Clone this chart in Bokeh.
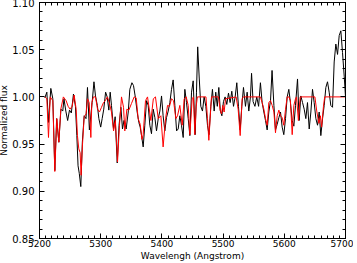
from bokeh.plotting import figure
from bokeh.models import LinearAxis, SingleIntervalTicker, PrintfTickFormatter, Range1d, CustomJSTickFormatter
from bokeh.embed import file_html
from bokeh.resources import INLINE

# Observed spectrum (black)
obs_wave = [5208.7, 5212, 5214.7, 5218.5, 5221.8, 5225, 5228, 5231.6, 5235, 5238, 5240, 5243, 5246, 5249, 5252,
            5255.5, 5258.7, 5261, 5263, 5265, 5267.5, 5270, 5273, 5276, 5278.4,
            5281.5, 5286, 5289, 5291.5, 5294.5, 5297, 5300, 5302.4, 5305, 5308, 5310.6, 5313.3, 5315.5, 5317.6,
            5321, 5323.6, 5327, 5330, 5333, 5335.6, 5338, 5341.6, 5345, 5347.6, 5351, 5353.6, 5356.3, 5359.6,
            5362.3, 5364.5, 5367.2,
            5369.4, 5372.1, 5374.9, 5377.6, 5380.3, 5383, 5385.8, 5388.5, 5391.2, 5394, 5396.7, 5399.4, 5402,
            5404.8, 5407.5, 5410.3, 5413, 5415.7, 5418.4, 5421.2, 5424, 5426.6, 5429.3, 5432, 5434.8, 5437.5,
            5440.2, 5443, 5445.7, 5448.4, 5451.1,
            5454.3, 5456.5, 5458.5, 5461, 5463.6, 5466.3, 5469, 5471.8, 5474.5, 5477, 5479.9, 5482.6, 5485.4,
            5488, 5490.5, 5493, 5495.5, 5498, 5500.6, 5503.3, 5506, 5508.8, 5511.5, 5514.2, 5517, 5519.7,
            5522.4, 5525.1, 5527.9, 5530.6, 5533.3,
            5536.6, 5539.3, 5542, 5544.7, 5546.5, 5549, 5552, 5555, 5558, 5561, 5563.8, 5566.6, 5569.3, 5572,
            5574.7, 5577.5, 5580, 5583, 5585.6, 5588.4, 5591.1, 5593.8, 5596.5, 5599.2, 5602, 5604.7, 5607.4,
            5610, 5612.9, 5615.6, 5618.3, 5621.6,
            5624.3, 5627, 5629.8, 5632.5, 5635.2, 5637.9, 5640.7, 5643.4, 5646.1, 5648.8, 5651.6, 5654.3, 5657,
            5659.7, 5662.5, 5665.2, 5667.9, 5670.6, 5673.3, 5676, 5678.8, 5681.5, 5684.2, 5687, 5689.7, 5692.4,
            5695.1, 5697.9, 5700]
obs_flux = [0.999, 1.005, 0.973, 1.009, 0.998, 0.922, 0.977, 0.952, 0.987, 0.985, 0.998, 0.985, 0.975, 0.986, 0.983,
            1.003, 0.990, 0.959, 0.927, 0.919, 0.905, 0.952, 0.980, 0.977, 1.010,
            0.965, 0.994, 1.016, 1.001, 0.991, 0.977, 0.968, 0.977, 0.987, 1.005, 1.000, 0.986, 1.005, 0.991,
            0.966, 0.979, 0.930, 0.970, 0.989, 0.966, 0.975, 0.966, 0.984, 1.008, 1.015, 1.012, 1.001, 0.984,
            0.973, 0.968, 0.957,
            0.947, 0.970, 0.996, 0.991, 0.970, 0.961, 0.987, 0.978, 0.964, 0.977, 0.985, 1.001, 0.980,
            0.964, 0.978, 0.985, 0.994, 1.008, 1.018, 0.991, 0.964, 0.966, 0.980, 0.970, 0.957, 1.008,
            0.994, 0.977, 0.959, 1.005, 1.017,
            0.960, 1.005, 1.053, 1.020, 0.990, 0.985, 1.000, 0.990, 0.970, 0.960, 0.990, 1.008, 0.985,
            1.005, 0.990, 1.010, 0.985, 0.980, 0.995, 1.000, 0.992, 1.004, 0.994, 1.006, 0.990, 1.000,
            1.015, 0.990, 0.965, 0.990, 1.010,
            0.990, 1.005, 0.985, 1.000, 1.025, 0.995, 0.990, 1.000, 0.990, 1.015, 0.994, 0.984, 0.975, 0.965,
            0.984, 0.996, 1.028, 0.991, 0.965, 0.971, 0.978, 0.984, 0.968, 0.960, 0.977, 1.000, 1.008,
            0.994, 0.975, 0.969, 0.991, 1.019,
            0.975, 1.001, 0.994, 0.987, 0.977, 0.994, 0.966, 0.984, 1.008, 0.994, 0.977, 0.970, 0.984,
            0.959, 0.977, 0.991, 1.010, 1.016, 1.005, 0.991, 0.989, 1.037, 1.056, 1.045, 1.065, 1.070,
            1.047, 1.022, 1.000]

# Model spectrum (red)
mod_wave = [5208.7, 5212, 5214.7, 5217.5, 5221.8, 5225, 5228.3, 5231.6, 5234.8, 5239, 5243.5, 5246.8, 5250,
            5253.3, 5256.6, 5259.9, 5262, 5264.2, 5266.4, 5268, 5270.2, 5273, 5276.2, 5278.4, 5281.2, 5283.9,
            5285.5, 5288.2, 5291.5, 5294.8, 5298, 5301.3, 5304.6, 5307.5, 5311, 5314, 5317.6, 5321, 5324,
            5327.5, 5330.7, 5334, 5337.3, 5339.4, 5342.7, 5346, 5350.3, 5354.7, 5358, 5361.2, 5364.5, 5367.5,
            5369.4, 5373.2, 5376.5, 5382, 5386, 5389.5, 5394, 5398.3, 5402, 5406, 5409.2, 5412.4, 5415.7,
            5419, 5422.8, 5425.5, 5429.3, 5433.2, 5436.4, 5439.7, 5443, 5445.7, 5449.5, 5451.6, 5453.8,
            5456, 5458, 5472, 5474.5, 5476.7, 5478.8, 5481, 5492.5, 5495.2, 5497.4, 5499.5, 5501.7, 5503.9,
            5521.3, 5524.6, 5527.9, 5531.1, 5533, 5561, 5563.8, 5566.6, 5569.3, 5572, 5574.7, 5577.5, 5580.2,
            5583, 5585.6, 5588.4, 5591.1, 5593.8, 5596.5, 5599.2, 5602, 5604.7, 5607.4, 5610, 5612.9, 5615.6,
            5618.3, 5620, 5623, 5626, 5650, 5653, 5656.5, 5659, 5661, 5664, 5666, 5700]
mod_flux = [1.000, 0.998, 0.957, 1.000, 0.996, 0.921, 0.977, 0.952, 0.987, 1.000, 0.996, 0.990, 0.987,
            0.990, 1.002, 0.987, 0.959, 0.945, 0.941, 0.917, 0.949, 0.979, 0.982, 0.998, 0.994, 0.957,
            0.994, 1.000, 1.000, 0.987, 0.984, 0.989, 0.994, 0.996, 1.000, 0.994, 0.984, 0.964, 0.975,
            0.931, 0.970, 1.000, 0.989, 0.964, 0.987, 0.986, 0.993, 1.000, 0.999, 0.977, 0.971, 0.955,
            0.960, 0.996, 1.000, 0.975, 0.998, 1.000, 0.977, 0.980, 0.947, 0.977, 0.991, 0.990, 0.998,
            0.996, 0.977, 0.980, 0.991, 0.970, 0.998, 1.000, 0.991, 0.960, 0.998, 1.000, 0.960,
            0.990, 1.000, 1.000, 0.977, 0.954, 0.977, 1.000, 1.000, 0.986, 0.982, 0.991, 0.984, 0.998,
            1.000, 0.987, 0.959, 0.998, 1.000, 1.000, 0.994, 0.987, 0.977, 0.970, 0.994, 0.996, 0.991,
            0.984, 0.962, 0.980, 0.986, 0.980, 0.978, 0.970, 0.987, 1.000, 1.000, 0.996, 0.960, 0.991,
            0.998, 1.000, 0.975, 1.000, 1.000, 0.985, 0.972, 0.980, 0.968, 0.990, 1.000, 1.000]

x_ticks_interval = 100
y_ticks_interval = 0.05

FONT = "DejaVu Sans"

p = figure(frame_width=306, frame_height=236, output_backend="svg", toolbar_location=None,
           x_range=Range1d(5200, 5700), y_range=Range1d(0.85, 1.10),
           min_border_left=40, min_border_right=8, min_border_top=5, min_border_bottom=20,
           x_axis_label="Wavelengh (Angstrom)", y_axis_label="Normalized flux")
p.margin = (-3, 0, 0, -4)
p.grid.visible = False
p.outline_line_color = "black"
p.outline_line_width = 1
p.background_fill_color = "white"
p.border_fill_color = "white"

p.xaxis.ticker = SingleIntervalTicker(interval=x_ticks_interval, num_minor_ticks=10)
p.yaxis.ticker = SingleIntervalTicker(interval=y_ticks_interval, num_minor_ticks=5)
p.yaxis.formatter = PrintfTickFormatter(format="%.2f")

for ax in p.xaxis + p.yaxis:
    ax.major_tick_in = 5
    ax.major_tick_out = 0
    ax.minor_tick_in = 3
    ax.minor_tick_out = 0
    ax.axis_line_color = "black"
    ax.major_label_text_font = FONT
    ax.major_label_text_color = "black"
    ax.axis_label_text_font = FONT
    ax.axis_label_text_font_style = "normal"
    ax.axis_label_text_font_size = "9px"
    ax.axis_label_text_color = "black"

p.xaxis.major_label_text_font_size = "9px"
p.xaxis.major_label_standoff = 1
p.xaxis.axis_label_standoff = 1
p.yaxis.major_label_text_font_size = "10px"
p.yaxis.major_label_standoff = 5
p.yaxis.axis_label_standoff = 0

blank = CustomJSTickFormatter(code="return ''")
top = LinearAxis(ticker=SingleIntervalTicker(interval=x_ticks_interval, num_minor_ticks=10),
                 formatter=blank, major_tick_in=5, major_tick_out=0,
                 minor_tick_in=3, minor_tick_out=0, major_label_standoff=0)
right = LinearAxis(ticker=SingleIntervalTicker(interval=y_ticks_interval, num_minor_ticks=5),
                   formatter=blank, major_tick_in=5, major_tick_out=0,
                   minor_tick_in=3, minor_tick_out=0, major_label_standoff=0)
p.add_layout(top, "above")
p.add_layout(right, "right")

p.line(obs_wave, obs_flux, line_color="black", line_width=1)
p.line(mod_wave, mod_flux, line_color="red", line_width=1)

open("out.html", "w").write(file_html(p, INLINE))
